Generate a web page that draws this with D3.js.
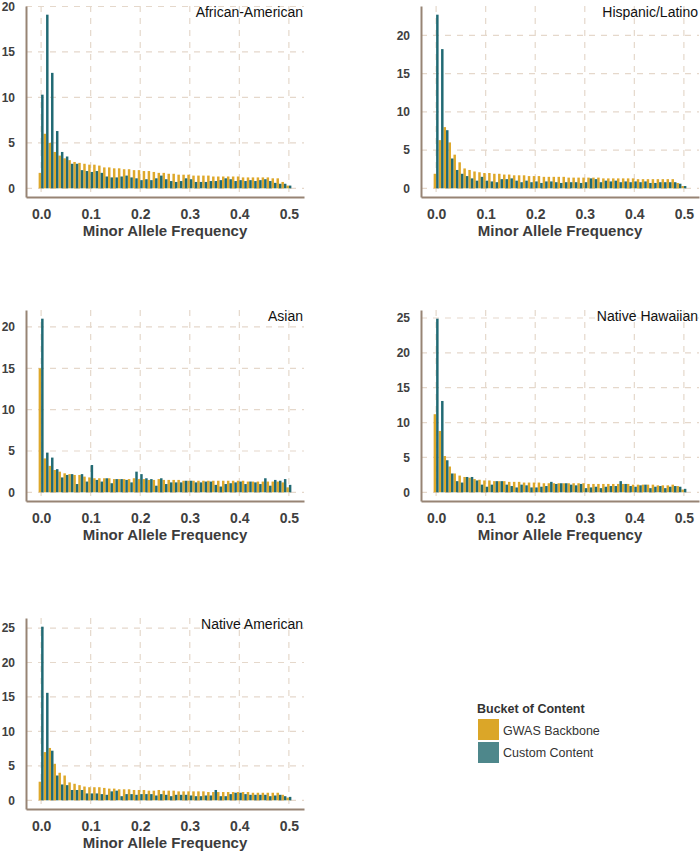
<!DOCTYPE html>
<html><head><meta charset="utf-8">
<script src="https://cdn.jsdelivr.net/npm/d3@7"></script>
<style>body{margin:0;background:#fff}svg{display:block}text{font-family:"Liberation Sans",Arial,sans-serif}</style>
</head><body>
<svg id="c" width="700" height="855"></svg>
<script>
// ---- data ----
const bins = [0.00,0.01,0.02,0.03,0.04,0.05,0.06,0.07,0.08,0.09,0.10,0.11,0.12,0.13,0.14,0.15,0.16,0.17,0.18,0.19,0.20,0.21,0.22,0.23,0.24,0.25,0.26,0.27,0.28,0.29,0.30,0.31,0.32,0.33,0.34,0.35,0.36,0.37,0.38,0.39,0.40,0.41,0.42,0.43,0.44,0.45,0.46,0.47,0.48,0.49,0.50];
const xTicks = [0.0,0.1,0.2,0.3,0.4,0.5];
const xTickLabels = ["0.0","0.1","0.2","0.3","0.4","0.5"];
const populations = ["African-American","Hispanic/Latino","Asian","Native Hawaiian","Native American"];
const seriesNames = ["GWAS Backbone","Custom Content"];

const afrGwas = [1.7,6.0,5.0,4.0,3.6,3.3,3.1,2.9,2.8,2.7,2.6,2.6,2.5,2.3,2.3,2.2,2.2,2.1,2.1,2.0,2.0,1.9,1.9,1.8,1.7,1.7,1.6,1.6,1.5,1.5,1.5,1.4,1.4,1.4,1.4,1.3,1.3,1.3,1.3,1.3,1.3,1.2,1.2,1.2,1.2,1.2,1.2,1.1,1.1,0.7,0.3];
const afrCustom = [10.3,19.1,12.7,6.3,4.0,3.5,2.7,2.7,2.0,1.9,1.8,1.9,1.7,1.3,1.2,1.2,1.3,1.4,1.2,1.1,0.9,1.0,0.9,1.1,1.4,1.0,0.8,0.7,0.8,1.1,1.0,0.7,0.7,0.7,0.8,0.8,0.9,1.1,1.0,0.8,0.9,0.8,0.9,0.8,0.9,1.0,0.8,0.6,0.5,0.5,0.3];

const hisGwas = [1.9,6.3,8.0,6.0,4.4,3.4,2.6,2.4,2.2,2.1,2.0,2.0,1.9,1.9,1.8,1.8,1.7,1.7,1.7,1.6,1.6,1.6,1.5,1.5,1.5,1.5,1.5,1.4,1.4,1.4,1.4,1.4,1.4,1.4,1.3,1.3,1.3,1.3,1.3,1.3,1.3,1.2,1.2,1.2,1.2,1.2,1.2,1.2,1.2,0.7,0.3];
const hisCustom = [22.7,18.2,7.6,3.9,2.4,1.9,1.6,1.3,1.0,1.5,1.0,0.9,0.8,1.2,1.2,1.3,1.0,0.8,1.0,0.8,0.9,0.7,0.9,0.9,0.8,0.7,0.8,0.8,0.8,0.7,0.8,1.3,1.2,0.8,1.0,0.9,1.0,0.8,0.9,0.8,0.9,0.8,0.9,0.7,0.7,0.8,0.8,0.8,0.8,0.6,0.3];

const asnGwas = [15.0,4.1,3.2,2.7,2.5,2.3,2.2,2.1,2.1,1.9,1.8,1.7,1.7,1.7,1.7,1.6,1.6,1.6,1.6,1.7,1.6,1.6,1.5,1.5,1.6,1.5,1.5,1.5,1.5,1.4,1.4,1.4,1.4,1.4,1.4,1.4,1.4,1.4,1.4,1.4,1.4,1.4,1.3,1.3,1.3,1.3,1.3,1.3,1.3,1.2,0.6];
const asnCustom = [21.0,4.8,4.2,2.8,1.8,2.1,2.2,1.0,2.2,1.3,3.3,1.5,1.3,1.7,1.1,1.6,1.6,1.5,1.2,2.5,2.2,1.7,1.6,0.8,1.7,1.0,1.2,1.2,1.2,1.4,1.4,1.2,1.2,1.3,1.3,0.9,0.7,1.0,1.1,1.2,1.3,1.0,1.3,1.2,1.0,1.7,0.8,1.5,1.4,1.6,0.9];

const nhwGwas = [11.2,8.8,5.2,3.7,2.7,2.4,2.2,2.1,1.9,1.8,1.7,1.7,1.6,1.6,1.6,1.5,1.5,1.5,1.4,1.4,1.4,1.4,1.3,1.3,1.3,1.3,1.3,1.3,1.3,1.3,1.3,1.2,1.2,1.2,1.2,1.2,1.2,1.2,1.2,1.2,1.1,1.1,1.1,1.1,1.1,1.0,1.0,1.0,1.1,0.9,0.4];
const nhwCustom = [24.9,13.1,4.6,2.7,1.6,1.4,2.2,2.2,1.7,1.1,0.8,1.1,1.6,1.6,1.1,0.9,0.7,1.1,1.0,0.7,0.7,0.8,0.9,1.5,1.2,1.3,1.3,1.1,1.0,1.2,0.6,0.7,0.8,0.6,0.8,0.9,0.9,1.6,1.2,0.9,0.8,1.0,1.1,0.6,0.8,0.9,0.6,0.8,0.9,0.8,0.5];

const namGwas = [2.7,7.0,7.6,5.3,4.0,3.6,2.6,2.4,2.2,2.0,1.9,1.9,1.9,1.8,1.7,1.7,1.6,1.6,1.6,1.5,1.5,1.5,1.4,1.4,1.5,1.4,1.4,1.4,1.3,1.3,1.3,1.3,1.3,1.3,1.2,1.2,1.2,1.2,1.2,1.2,1.2,1.2,1.2,1.1,1.1,1.1,1.1,1.1,1.1,0.8,0.4];
const namCustom = [25.2,15.6,7.2,3.6,2.3,2.2,1.5,1.5,1.5,1.0,1.0,1.0,0.9,0.8,1.3,1.4,0.6,0.9,0.9,0.8,0.9,0.9,0.9,0.7,0.9,0.8,0.6,0.8,0.8,0.8,0.7,0.6,0.6,0.7,0.7,1.5,0.6,0.6,0.9,1.1,1.1,0.9,0.8,0.8,0.8,0.8,0.6,0.7,0.8,0.6,0.5];

const gwasByPop = [afrGwas, hisGwas, asnGwas, nhwGwas, namGwas];
const customByPop = [afrCustom, hisCustom, asnCustom, nhwCustom, namCustom];

// ---- style ----
const GOLD = "#dea82b", TEAL = "#216a74";
const LEG_GOLD = "#dba628", LEG_TEAL = "#4e878b";
const GRID = "#e5d8cb", AXIS = "#978474";

const svg = d3.select("#c");
const colX = [26, 421], rowY = [6, 310, 618], PW = 278, PH = 191;
const binW = 0.01;

populations.forEach((pop, pi) => {
  const x0 = colX[pi % 2], y0 = rowY[Math.floor(pi / 2)];
  const gw = gwasByPop[pi], cc = customByPop[pi];
  const maxV = d3.max(gw.concat(cc));
  const xs = d3.scaleLinear().domain([-0.0305, 0.5305]).range([x0, x0 + PW]);
  const ys = d3.scaleLinear().domain([-0.05 * maxV, 1.05 * maxV]).range([y0 + PH, y0]);
  const yTicks = d3.range(0, 1.05 * maxV, 5);
  const g = svg.append("g");

  // grid
  g.selectAll(".hg").data(yTicks).join("line")
    .attr("x1", x0).attr("x2", x0 + PW).attr("y1", d => ys(d)).attr("y2", d => ys(d))
    .attr("stroke", GRID).attr("stroke-width", 1.2).attr("stroke-dasharray", "6,6");
  g.selectAll(".vg").data(xTicks).join("line")
    .attr("x1", d => xs(d)).attr("x2", d => xs(d)).attr("y1", y0).attr("y2", y0 + PH)
    .attr("stroke", GRID).attr("stroke-width", 1.2).attr("stroke-dasharray", "6,6");

  // bars: GWAS left half, Custom right half of each bin
  g.selectAll(".bg").data(bins.map((b, i) => ({b, v: gw[i]}))).join("rect")
    .attr("x", d => xs(d.b - binW / 2)).attr("width", xs(binW / 2) - xs(0))
    .attr("y", d => ys(d.v)).attr("height", d => ys(0) - ys(d.v)).attr("fill", GOLD);
  g.selectAll(".bc").data(bins.map((b, i) => ({b, v: cc[i]}))).join("rect")
    .attr("x", d => xs(d.b)).attr("width", xs(binW / 2) - xs(0))
    .attr("y", d => ys(d.v)).attr("height", d => ys(0) - ys(d.v)).attr("fill", TEAL);

  // axes
  const ax = g.append("g").attr("transform", `translate(0,${y0 + PH})`)
    .call(d3.axisBottom(xs).tickValues(xTicks).tickFormat((d, i) => xTickLabels[i]).tickSize(0).tickPadding(12));
  ax.select(".domain").attr("stroke", AXIS).attr("stroke-width", 2);
  ax.selectAll("text").attr("font-size", 14).attr("font-weight", "bold").attr("fill", "#404040")
    .style("font-family", '"Liberation Sans",Arial,sans-serif');
  const ay = g.append("g").attr("transform", `translate(${x0},0)`)
    .call(d3.axisLeft(ys).tickValues(yTicks).tickFormat(d3.format("d")).tickSize(0).tickPadding(11));
  ay.select(".domain").attr("stroke", AXIS).attr("stroke-width", 2);
  ay.selectAll("text").attr("font-size", 12).attr("font-weight", "bold").attr("fill", "#404040")
    .style("font-family", '"Liberation Sans",Arial,sans-serif');

  g.append("text").attr("x", x0 + PW / 2).attr("y", y0 + PH + 39)
    .attr("text-anchor", "middle").attr("font-size", 15).attr("font-weight", "bold").attr("fill", "#3c3c3c")
    .text("Minor Allele Frequency");
  g.append("text").attr("x", x0 + PW - 1).attr("y", y0 + 11)
    .attr("text-anchor", "end").attr("font-size", 14).attr("fill", "#111")
    .text(pop);
});

// legend
const lg = svg.append("g").attr("transform", "translate(477,0)");
lg.append("text").attr("x", 0).attr("y", 713).attr("font-size", 12.5).attr("font-weight", "bold").attr("fill", "#333").text("Bucket of Content");
const legColors = [LEG_GOLD, LEG_TEAL];
seriesNames.forEach((s, i) => {
  lg.append("rect").attr("x", 1).attr("y", 719 + i * 23).attr("width", 21).attr("height", 21).attr("fill", legColors[i]);
  lg.append("text").attr("x", 26).attr("y", 735 + i * 22).attr("font-size", 12.5).attr("fill", "#333").text(s);
});
</script>
</body></html>
